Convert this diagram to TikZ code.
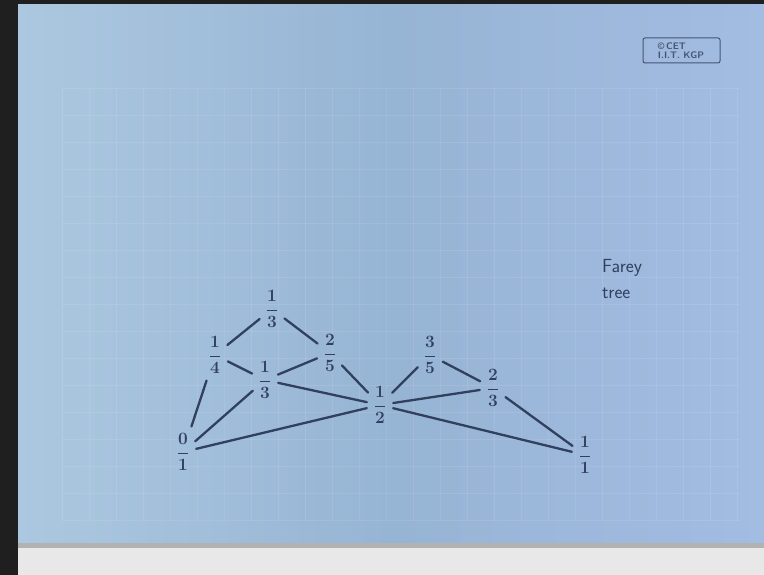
\documentclass[tikz,border=0pt]{standalone}
\usepackage{amsmath}
\definecolor{paperL}{RGB}{172,200,224}
\definecolor{paperM}{RGB}{150,180,212}
\definecolor{paperR}{RGB}{163,188,226}
\definecolor{ink}{RGB}{50,64,95}
\definecolor{stamp}{RGB}{70,85,115}
\begin{document}
\begin{tikzpicture}[x=1pt,y=-1pt,>=latex,
    frac/.style={text=ink,inner sep=3pt,font=\fontsize{18}{20}\selectfont\boldmath},
    link/.style={ink,line width=2.3pt,line cap=round,shorten <=4pt,shorten >=4pt}]
        \def\gridstep{27}

        % board, paper and bottom strip
        \fill[black!88] (0,0) rectangle (764,575);
        \shade[left color=paperL,right color=paperR,middle color=paperM]
            (18,5) rectangle (764,545);
        \fill[black!30] (18,543) rectangle (764,548);
        \fill[gray!18] (18,548) rectangle (764,575);
        \foreach \gx in {62,89,...,740}
            \draw[white,opacity=0.09,line width=0.6pt] (\gx,88) -- (\gx,520);
        \foreach \gy in {88,115,...,520}
            \draw[white,opacity=0.09,line width=0.6pt] (62,\gy) -- (740,\gy);

        % stamp
        \draw[stamp,rounded corners=2pt,line width=1pt] (643,38) rectangle (720,63);
        \node[text=stamp,font=\fontsize{9.5}{9}\selectfont\sffamily\bfseries,align=left] (mark)
            at (681,50.5) {\textcopyright\,CET\\I.I.T. KGP};

        % fractions
        \node[frac] (zero)  at (183,452) {$\dfrac{0}{1}$};
        \node[frac] (quart) at (215,355) {$\dfrac{1}{4}$};
        \node[frac] (third) at (272,309) {$\dfrac{1}{3}$};
        \node[frac] (mid)   at (265,380) {$\dfrac{1}{3}$};
        \node[frac] (twofive) at (330,353) {$\dfrac{2}{5}$};
        \node[frac] (half)  at (380,405) {$\dfrac{1}{2}$};
        \node[frac] (threefive) at (430,355) {$\dfrac{3}{5}$};
        \node[frac] (twothird) at (493,388) {$\dfrac{2}{3}$};
        \node[frac] (one)   at (585,455) {$\dfrac{1}{1}$};

        \node[text=ink,font=\fontsize{19}{26}\selectfont\sffamily,align=left] (title)
            at (622,279) {Farey\\tree};

        % links
        \draw[link] (third) -- (quart);
        \draw[link] (third) -- (twofive);
        \draw[link] (quart) -- (zero);
        \draw[link] (quart) -- (mid);
        \draw[link] (mid) -- (twofive);
        \draw[link] (mid) -- (half);
        \draw[link] (twofive) -- (half);
        \draw[link] (zero) -- (mid);
        \draw[link] (zero) -- (half);
        \draw[link] (half) -- (threefive);
        \draw[link] (threefive) -- (twothird);
        \draw[link] (half) -- (twothird);
        \draw[link] (twothird) -- (one);
        \draw[link] (half) -- (one);
    \end{tikzpicture}
\end{document}
